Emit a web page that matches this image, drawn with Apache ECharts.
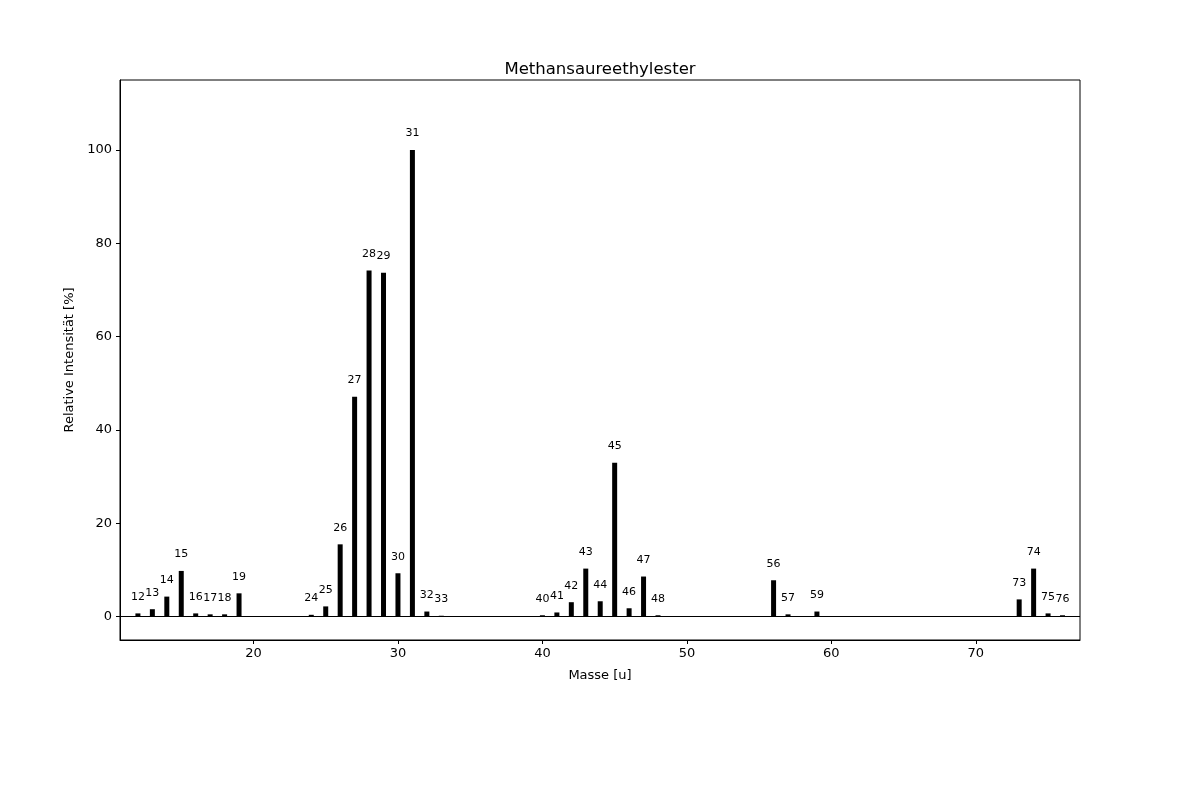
<!DOCTYPE html>
<html>
<head>
<meta charset="utf-8">
<script src="https://cdn.jsdelivr.net/npm/echarts@6/dist/echarts.min.js"></script>
<style>html,body{margin:0;padding:0;background:#fff}#c{width:1200px;height:800px}</style>
</head>
<body>
<div id="c"></div>
<script>
const masses = [12,13,14,15,16,17,18,19,24,25,26,27,28,29,30,31,32,33,40,41,42,43,44,45,46,47,48,56,57,59,73,74,75,76];
const intensities = [0.7,1.6,4.3,9.8,0.7,0.5,0.5,5.0,0.4,2.2,15.5,47.1,74.2,73.7,9.3,100,1.1,0.2,0.3,0.9,3.1,10.3,3.3,33.0,1.8,8.6,0.3,7.8,0.5,1.1,3.7,10.3,0.7,0.3];
const xTicks = [20,30,40,50,60,70];
const yTicks = [0,20,40,60,80,100];
const titleText = 'Methansaureethylester';
const xName = 'Masse [u]';
const yName = 'Relative Intensität [%]';

const font = 'DejaVu Sans';
const chart = echarts.init(document.getElementById('c'), null, {renderer:'canvas'});
chart.setOption({
  animation: false,
  backgroundColor: '#fff',
  textStyle: {fontFamily: font},
  title: {text: titleText, left: 'center', top: 56, textStyle: {fontFamily: font, fontSize: 16.5, fontWeight: 'normal', color: '#000'}},
  grid: {left: 120, right: 120, top: 80, bottom: 160, show: true, borderColor: '#000', borderWidth: 1, containLabel: false},
  xAxis: {
    type: 'value', min: 10.76, max: 77.21,
    name: xName, nameLocation: 'middle', nameGap: 29,
    nameTextStyle: {fontFamily: font, fontSize: 13, color: '#000'},
    axisLine: {show: true, onZero: false, lineStyle: {color: '#000', width: 1}},
    axisTick: {show: true, length: 4, lineStyle: {color: '#000'}, customValues: xTicks},
    axisLabel: {fontFamily: font, fontSize: 13, color: '#000', margin: 7, customValues: xTicks},
    splitLine: {show: false}
  },
  yAxis: {
    type: 'value', min: -5, max: 115,
    name: yName, nameLocation: 'middle', nameGap: 42,
    nameTextStyle: {fontFamily: font, fontSize: 13, color: '#000'},
    axisLine: {show: true, onZero: false, lineStyle: {color: '#000', width: 1}},
    axisTick: {show: true, length: 4, lineStyle: {color: '#000'}, customValues: yTicks},
    axisLabel: {fontFamily: font, fontSize: 13, color: '#000', margin: 8, customValues: yTicks},
    splitLine: {show: false}
  },
  series: [{
    type: 'bar',
    data: masses.map((m, i) => [m, intensities[i]]),
    barWidth: 5,
    itemStyle: {color: '#000'},
    label: {show: true, position: 'top', distance: 11, fontFamily: font, fontSize: 11, color: '#000',
      formatter: p => String(p.value[0])},
    markLine: {
      silent: true, symbol: 'none', label: {show: false},
      lineStyle: {color: '#000', width: 1, type: 'solid'},
      data: [{yAxis: 0}]
    },
    z: 3
  }]
});
</script>
</body>
</html>
